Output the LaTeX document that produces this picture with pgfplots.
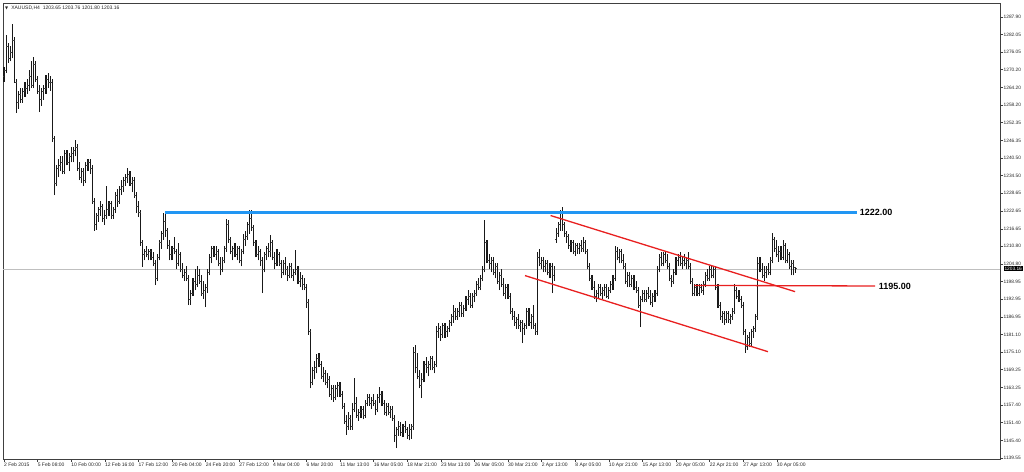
\documentclass[border=0pt]{standalone}
\usepackage{fontspec}
\setmainfont{Liberation Sans}
\newfontfamily\dejavu{DejaVu Sans}
\usepackage{pgfplots}
\usepackage{pgfplotstable}
\pgfplotsset{compat=1.18}
\definecolor{lineblue}{RGB}{33,150,243}
\definecolor{linered}{RGB}{232,32,32}
\pgfplotstableread{
x o h l c
0 1268 1271 1266 1270
1 1270 1281.8 1269 1278
2 1278 1279 1272.4 1274
3 1274 1278 1273 1276
4 1276 1285.5 1274 1280
5 1280 1281 1265.7 1266
6 1266 1267 1255.6 1259
7 1259 1263 1257 1262
8 1262 1264 1259 1260
9 1260 1264 1259 1263
10 1263 1266 1261 1264
11 1264 1267 1262 1265
12 1265 1270 1263 1268
13 1268 1273 1264 1265
14 1265 1274.4 1264 1272
15 1272 1273 1266 1267
16 1267 1268 1262 1263
17 1263 1265 1255.9 1260
18 1260 1264 1258 1263
19 1263 1265 1260 1264
20 1264 1268.4 1262 1267
21 1267 1269 1264 1266
22 1266 1268 1263 1266
23 1266 1267 1246 1247
24 1247 1248 1228 1232
25 1232 1238 1231 1237
26 1237 1240 1234 1238
27 1238 1241 1236 1239
28 1239 1241 1235 1236
29 1236 1243 1235 1242
30 1242 1243 1238 1239
31 1239 1242 1236 1241
32 1241 1244 1239 1242
33 1242 1244 1239 1243
34 1243 1246.5 1241 1244
35 1244 1245 1236 1237
36 1237 1239 1233 1234
37 1234 1237 1232 1236
38 1236 1237 1231 1233
39 1233 1239 1232 1238
40 1238 1240 1236 1239
41 1239 1240 1235 1237
42 1237 1238 1225 1226
43 1226 1227 1216 1218
44 1218 1222 1216.3 1221
45 1221 1224 1219 1223
46 1223 1226 1221 1224
47 1224 1225 1219 1220
48 1220 1223 1218 1221
49 1221 1231 1220 1223
50 1223 1226 1221 1225
51 1225 1226 1220 1221
52 1221 1224 1220 1223
53 1223 1229 1222 1228
54 1228 1230 1224 1226
55 1226 1231 1225 1230
56 1230 1233 1228 1231
57 1231 1234 1229 1233
58 1233 1235 1231 1234
59 1234 1237 1232 1235
60 1235 1236 1231 1232
61 1232 1234 1229 1233
62 1233 1234 1227 1228
63 1228 1229 1222 1224
64 1224 1226 1220.6 1222
65 1222 1223 1211 1212
66 1212 1213 1203.8 1208
67 1208 1210 1206 1209
68 1209 1211 1207 1208
69 1208 1210 1206 1209
70 1209 1210 1206 1207
71 1207 1209 1204 1205
72 1205 1206 1197.7 1200
73 1200 1208 1199 1207
74 1207 1213 1206 1212
75 1212 1216 1210 1215
76 1215 1222 1213 1219
77 1219 1222 1214 1216
78 1216 1217 1210 1211
79 1211 1213 1206 1208
80 1208 1211 1206 1210
81 1210 1214 1208 1209
82 1209 1210 1203 1205
83 1205 1212 1204 1208
84 1208 1209 1202 1203
85 1203 1205 1200 1201
86 1201 1203 1199 1202
87 1202 1204 1199 1200
88 1200 1201 1191 1193
89 1193 1196 1191 1195
90 1195 1200 1194 1199
91 1199 1203 1196 1198
92 1198 1204 1197 1201
93 1201 1203 1198 1199
94 1199 1201 1194 1195
95 1195 1199 1193 1196
96 1196 1198 1190.3 1197
97 1197 1203 1195 1202
98 1202 1208 1201 1207
99 1207 1211 1205 1210
100 1210 1211 1207 1208
101 1208 1211 1206 1209
102 1209 1210 1204 1205
103 1205 1207 1201 1203
104 1203 1207 1202 1206
105 1206 1211 1205 1210
106 1210 1220 1209 1218
107 1218 1219.6 1212 1213
108 1213 1214 1208 1209
109 1209 1211 1206 1210
110 1210 1212 1207 1208
111 1208 1211 1206 1210
112 1210 1211 1205 1206
113 1206 1210 1204 1209
114 1209 1215 1208 1213
115 1213 1216 1211 1214
116 1214 1219 1213 1218
117 1218 1223 1215 1220
118 1220 1223 1216 1217
119 1217 1218 1211 1212
120 1212 1213 1207 1208
121 1208 1211 1206 1209
122 1209 1210 1204 1206
123 1206 1207 1195 1203
124 1203 1209 1202 1208
125 1208 1211 1206 1210
126 1210 1212 1207 1209
127 1209 1214.5 1207 1212
128 1212 1213 1206 1207
129 1207 1209 1203 1205
130 1205 1210 1204 1208
131 1208 1209 1204 1205
132 1205 1206 1200 1202
133 1202 1206 1201 1205
134 1205 1207 1201 1203
135 1203 1204 1199 1201
136 1201 1205 1200 1204
137 1204 1205 1200 1201
138 1201 1203 1199 1202
139 1202 1209.5 1201 1203
140 1203 1204 1198 1199
141 1199 1202 1197 1200
142 1200 1201 1196 1198
143 1198 1200 1196 1197
144 1197 1198 1190 1192
145 1192 1193 1181 1182
146 1182 1183 1163 1165
147 1165 1170 1164 1169
148 1169 1172 1166 1170
149 1170 1174.5 1168 1173
150 1173 1175 1170 1171
151 1171 1172 1166 1167
152 1167 1170 1165 1168
153 1168 1169 1164 1165
154 1165 1168 1163 1166
155 1166 1167 1160 1161
156 1161 1164 1159 1163
157 1163 1164 1158.5 1160
158 1160 1164 1159 1163
159 1163 1165 1160 1164
160 1164 1165 1160 1161
161 1161 1162 1156 1157
162 1157 1158 1151 1152
163 1152 1154 1147.3 1150
164 1150 1155 1149 1153
165 1153 1154 1149 1150
166 1150 1158 1149 1156
167 1156 1166.5 1155 1158
168 1158 1160 1153 1154
169 1154 1156 1152 1155
170 1155 1157 1153 1156
171 1156 1157 1152.5 1154
172 1154 1159 1153 1158
173 1158 1161 1157 1160
174 1160 1161 1157 1158
175 1158 1160 1156 1159
176 1159 1161 1157 1158
177 1158 1159 1154 1156
178 1156 1161 1155 1160
179 1160 1163.4 1158 1161
180 1161 1162 1157 1158
181 1158 1159 1154 1155
182 1155 1158 1153.5 1157
183 1157 1158 1154 1155
184 1155 1157 1153 1156
185 1156 1157 1152 1153
186 1153 1154 1145 1147
187 1147 1150 1142.9 1149
188 1149 1152 1147 1150
189 1150 1151.5 1147 1148
190 1148 1151 1146.5 1150
191 1150 1152 1148 1149
192 1149 1150 1146 1147
193 1147 1151 1145.5 1149
194 1149 1151 1146 1150
195 1150 1177 1149 1175
196 1175 1177.5 1168 1170
197 1170 1175 1166 1167
198 1167 1169 1163 1164
199 1164 1168 1159.7 1166
200 1166 1172 1165 1171
201 1171 1173.5 1168 1170
202 1170 1172 1167 1171
203 1171 1174 1169 1173
204 1173 1174 1169 1170
205 1170 1172 1168 1171
206 1171 1184 1170 1182
207 1182 1185 1180 1183
208 1183 1184 1179 1181
209 1181 1185 1180 1184
210 1184 1185 1180 1182
211 1182 1184 1180.3 1183
212 1183 1186 1182 1185
213 1185 1188 1184 1187
214 1187 1191 1185 1189
215 1189 1190 1186 1187
216 1187 1190 1186 1189
217 1189 1192 1187 1191
218 1191 1192 1187 1188
219 1188 1191 1187 1190
220 1190 1194 1189 1193
221 1193 1196 1191 1194
222 1194 1195 1190 1191
223 1191 1195 1190 1194
224 1194 1196 1192 1195
225 1195 1199 1194 1198
226 1198 1200 1196 1197
227 1197 1201 1196 1200
228 1200 1204 1199 1203
229 1203 1219.6 1202 1212
230 1212 1213 1205 1206
231 1206 1208 1203 1205
232 1205 1207 1202 1206
233 1206 1207 1201 1202
234 1202 1205 1200 1204
235 1204 1205 1198 1199
236 1199 1202 1196 1201
237 1201 1203 1197 1198
238 1198 1200 1194 1195
239 1195 1198 1193 1197
240 1197 1198 1193 1194
241 1194 1195 1188 1189
242 1189 1190 1186 1187
243 1187 1189 1184 1185
244 1185 1187 1183 1186
245 1186 1188 1183 1184
246 1184 1186 1182 1185
247 1185 1186 1178.2 1183
248 1183 1185 1181 1184
249 1184 1190 1183 1189
250 1189 1190 1184 1185
251 1185 1188 1183 1187
252 1187 1191 1183 1184
253 1184 1185 1181 1182
254 1182 1209 1181 1207
255 1207 1210 1204 1205
256 1205 1207 1203 1206
257 1206 1207 1202 1204
258 1204 1206 1202 1205
259 1205 1206 1201 1202
260 1202 1205 1200 1204
261 1204 1205 1195 1201
262 1201 1204 1199 1203
263 1213 1217 1212 1215
264 1215 1219 1214 1218
265 1218 1223 1216 1220
266 1220 1224 1216 1218
267 1218 1219 1214 1215
268 1215 1216 1212 1214
269 1214 1215 1210 1211
270 1211 1213 1209 1212
271 1212 1213 1208 1209
272 1209 1212 1207.5 1211
273 1211 1212 1208 1210
274 1210 1212 1208 1211
275 1211 1213 1209 1210
276 1210 1214 1209 1212
277 1212 1213 1208 1209
278 1209 1210 1203 1204
279 1204 1205 1199 1200
280 1200 1201 1196 1197
281 1197 1199 1193 1194
282 1194 1196 1192 1195
283 1195 1198 1193 1197
284 1197 1198 1194 1195
285 1195 1197 1193 1196
286 1196 1198 1194 1197
287 1197 1198 1193.5 1194
288 1194 1197 1193 1196
289 1196 1199 1195 1198
290 1198 1201 1196 1200
291 1200 1211 1199 1209
292 1209 1210.5 1206 1207
293 1207 1210 1205 1209
294 1209 1210 1205 1206
295 1206 1208 1203 1204
296 1204 1205 1198 1199
297 1199 1202 1197 1201
298 1201 1202 1197 1198
299 1198 1201 1197 1200
300 1200 1201 1196 1197
301 1197 1199 1195 1196
302 1196 1197 1190 1191
303 1191 1194 1183.6 1193
304 1193 1196 1192 1195
305 1195 1196 1192 1193
306 1193 1196 1192 1195
307 1195 1197 1193 1194
308 1194 1196 1191 1192
309 1192 1195 1190.5 1194
310 1194 1196 1192 1195
311 1195 1204 1194 1203
312 1203 1208 1202 1207
313 1207 1209 1204 1205
314 1205 1208.8 1204 1208
315 1208 1209 1205 1206
316 1206 1208 1203 1204
317 1204 1205 1199 1200
318 1200 1201 1197 1199
319 1199 1203 1198 1202
320 1202 1207 1201 1206
321 1206 1208 1204 1207
322 1207 1209 1204 1205
323 1205 1207 1203 1206
324 1206 1208 1204 1205
325 1205 1207 1203 1206
326 1206 1209 1203 1204
327 1204 1205 1198 1199
328 1199 1200 1194 1195
329 1195 1198 1194 1197
330 1197 1198 1194 1195
331 1195 1198 1194 1197
332 1197 1198 1195 1196
333 1196 1199 1194.5 1198
334 1198 1202 1197 1201
335 1201 1203 1199 1200
336 1200 1204 1199 1203
337 1203 1204 1200 1201
338 1201 1204 1200 1203
339 1203 1204.2 1196 1197
340 1197 1198 1190 1191
341 1191 1192 1186 1187
342 1187 1189 1185 1188
343 1188 1189 1184.3 1186
344 1186 1189 1185 1188
345 1188 1189 1185 1186
346 1186 1188 1184.5 1187
347 1187 1190 1186 1189
348 1189 1198 1188 1196
349 1196 1197 1193 1194
350 1194 1196 1192 1193
351 1193 1194 1190 1191
352 1191 1192 1181 1182
353 1182 1183 1174.9 1177
354 1177 1181 1176 1180
355 1180 1182 1177 1178
356 1178 1183 1177 1182
357 1182 1184 1180 1183
358 1183 1188 1182 1187
359 1187 1207 1186 1205
360 1205 1207 1202 1203
361 1203 1205 1200 1201
362 1201 1204 1199 1202
363 1202 1204 1200 1203
364 1203 1205 1201 1202
365 1202 1207 1201 1206
366 1206 1215.2 1205 1213
367 1213 1214 1209 1210
368 1210 1213 1207 1208
369 1208 1211 1205.5 1209
370 1209 1211 1206 1207
371 1207 1213 1206 1211
372 1211 1212 1205 1206
373 1206 1210 1205 1208
374 1208 1209 1203 1204
375 1204 1206 1201 1205
376 1205 1206 1201 1203.65
377 1203.65 1203.76 1201.80 1203.16
}\bars
\begin{document}
\begin{tikzpicture}
\path[use as bounding box] (-3pt,-12pt) rectangle (1021pt,459pt);
\begin{axis}[
  at={(0,0)}, anchor=south west,
  scale only axis, width=997pt, height=456pt,
  xmin=-0.48, xmax=474.3, ymin=1139.2, ymax=1292.6,
  enlargelimits=false,
  axis line style={black!75, line width=0.6pt},
  tick align=outside, major tick length=2.5pt,
  tick style={black!75, line width=0.5pt},
  xtick pos=left, ytick pos=right, yticklabel pos=right,
  xtick={0,16,...,368},
  xticklabels={2 Feb 2015,5 Feb 08:00,10 Feb 00:00,12 Feb 16:00,17 Feb 12:00,20 Feb 04:00,24 Feb 20:00,27 Feb 12:00,4 Mar 04:00,6 Mar 20:00,11 Mar 13:00,16 Mar 05:00,18 Mar 21:00,23 Mar 13:00,26 Mar 05:00,30 Mar 21:00,2 Apr 13:00,8 Apr 05:00,10 Apr 21:00,15 Apr 13:00,20 Apr 05:00,22 Apr 21:00,27 Apr 13:00,30 Apr 05:00},
  xticklabel style={anchor=north west, font=\fontsize{5}{6}\selectfont, inner sep=1pt, xshift=-1pt, text=black!85},
  ytick={1287.90,1282.05,1276.05,1270.20,1264.20,1258.20,1252.35,1246.35,1240.50,1234.50,1228.65,1222.65,1216.65,1210.80,1204.80,1198.95,1192.95,1186.95,1181.10,1175.10,1169.25,1163.25,1157.40,1151.40,1145.40,1139.55},
  yticklabels={1287.90,1282.05,1276.05,1270.20,1264.20,1258.20,1252.35,1246.35,1240.50,1234.50,1228.65,1222.65,1216.65,1210.80,1204.80,1198.95,1192.95,1186.95,1181.10,1175.10,1169.25,1163.25,1157.40,1151.40,1145.40,1139.55},
  yticklabel style={font=\fontsize{4.8}{6}\selectfont, inner sep=1pt, text=black!85},
]
% current price line
\addplot[black!25, line width=0.5pt] coordinates {(-0.48,1203.16) (474.3,1203.16)};
% high-low lines
\addplot[draw=none, mark=none, error bars/.cd, y dir=plus, y explicit, error mark=none,
  error bar style={draw=black!90, line width=1.1pt}]
  table[x=x, y=l, y error expr=\thisrow{h}-\thisrow{l}] {\bars};
% open ticks
\addplot[draw=none, mark=none, error bars/.cd, x dir=minus, x fixed=0.6, error mark=none,
  error bar style={draw=black!75, line width=0.9pt}]
  table[x=x, y=o] {\bars};
% close ticks
\addplot[draw=none, mark=none, error bars/.cd, x dir=plus, x fixed=0.6, error mark=none,
  error bar style={draw=black!75, line width=0.9pt}]
  table[x=x, y=c] {\bars};
% resistance
\addplot[lineblue, line width=3pt] coordinates {(76.7,1222) (406,1222)};
% channel
\addplot[linered, line width=1.3pt] coordinates {(260.3,1221.1) (376.7,1195.5)};
\addplot[linered, line width=1.3pt] coordinates {(248.1,1200.9) (363.8,1175.3)};
\addplot[linered, line width=1.3pt] coordinates {(328.7,1197.6) (414.8,1197.4)};
\node[anchor=west, font=\bfseries\fontsize{9}{10}\selectfont, inner sep=1pt] at (axis cs:407,1222) {1222.00};
\node[anchor=west, font=\bfseries\fontsize{9}{10}\selectfont, inner sep=1pt] at (axis cs:416,1197.4) {1195.00};
\node[anchor=west, font=\fontsize{5}{6}\selectfont, inner sep=0pt, xshift=2pt, yshift=-5pt, text=black!85] at (rel axis cs:0,1) {{\dejavu\fontsize{4}{5}\selectfont ▼}\hspace{3pt}XAUUSD,H4\hspace{3pt}1203.65 1203.76 1201.80 1203.16};
\end{axis}
\node[anchor=west, fill=black, text=white, font=\fontsize{4.8}{6}\selectfont, inner sep=0.8pt] at (1000.5pt,{(1203.16-1139.2)/(1292.6-1139.2)*456pt}) {1203.16};
\end{tikzpicture}
\end{document}
